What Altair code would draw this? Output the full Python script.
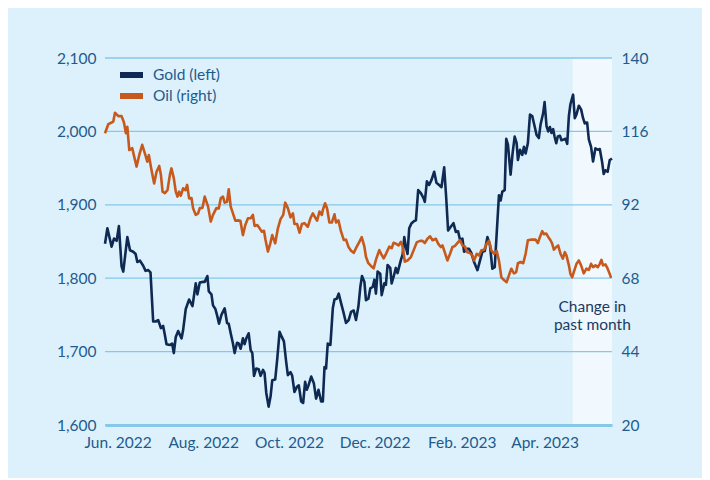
import altair as alt
import pandas as pd

START = pd.Timestamp("2022-05-23")

# Gold (left axis): days since START, price in USD/oz
gold_day = (
    [0.0, 1.7, 4.7, 6.4, 8.3, 9.9, 11.8, 13.0, 15.9, 17.8,
     20.1, 21.8, 23.0, 24.9, 27.2, 28.9, 30.8, 32.4, 34.3, 36.0,
     37.9, 39.8, 41.4, 42.6, 43.8, 46.2, 47.8, 49.0, 50.4, 52.1,
     54.5, 55.6, 57.5, 59.9, 62.3, 64.6, 65.8, 67.5, 69.8]
    + [71.0, 72.9, 73.9, 75.8, 76.9, 78.6, 80.0, 81.2, 82.9, 85.2,
       86.9, 88.1, 89.5, 91.1, 92.3, 94.0, 95.2, 96.6, 98.2, 99.4,
       100.6, 102.3, 103.7, 104.9, 106.1, 107.7, 109.4, 110.8, 112.5, 113.6,
       114.8, 116.5, 117.9, 119.1, 121.2, 122.6, 124.3, 125.9, 127.4, 129.0,
       130.2, 132.1, 133.3, 134.9, 136.6, 138.0, 139.7, 141.1, 142.5, 143.7,
       144.9, 146.8, 148.7, 150.3, 152.0, 153.9, 155.1, 156.3, 157.4, 158.6,
       160.5, 162.2, 163.4, 165.0, 166.4, 168.1, 170.0, 171.6, 173.5, 175.2,
       177.1, 178.7, 180.4, 181.8, 183.0, 184.7, 185.8, 187.5, 188.9, 190.6,
       191.8, 192.9, 194.1, 196.0, 197.0, 198.9, 200.0, 201.2, 203.1, 204.1,
       205.5, 207.1, 208.3, 210.7, 211.9]
    + [213.1, 214.3, 215.4, 216.6, 218.3, 220.2, 221.4, 223.0, 224.9, 226.8,
       227.7, 229.2, 230.8, 232.5, 234.4, 236.0, 237.9, 239.6, 241.5, 242.9,
       244.3, 246.2, 248.1, 249.8, 251.4, 252.8, 254.5, 255.7, 257.6, 259.2,
       260.9, 262.8, 265.2, 267.0, 268.7, 270.4, 272.3, 274.1, 275.8, 277.5,
       278.9, 280.5, 281.7, 282.9]
    + [284.6, 285.7, 286.9, 288.8, 290.2, 291.7, 293.1, 294.0, 295.5, 297.1,
       298.3, 299.5, 301.1, 302.6, 304.2, 305.9, 307.3, 308.9, 310.1, 312.0,
       313.0, 314.4, 315.6, 316.8, 317.9, 319.1, 320.1, 321.3, 322.4, 323.9,
       325.0, 326.7, 327.9, 329.1, 330.3, 331.4, 333.3, 334.5, 335.7, 337.4,
       339.0, 340.4, 341.6, 343.3, 344.5, 346.1, 347.5, 349.2, 350.9, 352.3,
       353.9, 355.1, 356.3, 357.9, 359.4, 361.0]
)
gold_val = (
    [1847, 1868, 1843, 1854, 1851, 1871, 1816, 1809, 1856, 1838,
     1836, 1833, 1822, 1824, 1817, 1810, 1811, 1808, 1741, 1741,
     1743, 1732, 1735, 1723, 1710, 1709, 1711, 1698, 1720, 1728,
     1718, 1729, 1758, 1771, 1762, 1793, 1778, 1794, 1795]
    + [1795, 1803, 1782, 1778, 1763, 1758, 1748, 1738, 1750, 1759,
       1739, 1738, 1725, 1711, 1698, 1712, 1711, 1704, 1718, 1710,
       1718, 1725, 1702, 1698, 1667, 1677, 1676, 1667, 1675, 1671,
       1644, 1625, 1639, 1661, 1662, 1689, 1727, 1720, 1714, 1686,
       1668, 1672, 1667, 1645, 1652, 1654, 1632, 1630, 1659, 1648,
       1654, 1666, 1657, 1636, 1648, 1632, 1632, 1679, 1677, 1711,
       1709, 1759, 1771, 1772, 1779, 1766, 1752, 1739, 1743, 1754,
       1756, 1743, 1761, 1788, 1803, 1795, 1770, 1772, 1786, 1788,
       1798, 1779, 1809, 1806, 1777, 1793, 1791, 1818, 1814, 1793,
       1802, 1814, 1807, 1825, 1832]
    + [1856, 1842, 1833, 1868, 1875, 1878, 1879, 1920, 1916, 1909,
       1904, 1932, 1927, 1934, 1945, 1930, 1927, 1924, 1951, 1911,
       1865, 1870, 1875, 1863, 1864, 1852, 1854, 1836, 1840, 1840,
       1834, 1822, 1811, 1824, 1836, 1837, 1856, 1845, 1813, 1815,
       1861, 1913, 1906, 1918]
    + [1920, 1990, 1982, 1941, 1970, 1993, 1984, 1961, 1975, 1968,
       1979, 1970, 1984, 2023, 2021, 2007, 1995, 1991, 2009, 2025,
       2040, 2007, 2000, 2006, 1998, 2003, 1993, 1984, 1993, 1994,
       1988, 1989, 1990, 1983, 2021, 2037, 2050, 2018, 2023, 2035,
       2030, 2018, 2011, 2012, 1989, 1979, 1959, 1977, 1975, 1976,
       1959, 1942, 1947, 1945, 1961, 1963]
)

# Oil (right axis): days since START, price in USD/bbl
oil_day = (
    [0.0, 2.4, 4.7, 5.9, 7.1, 9.5, 11.8, 13.5, 14.9, 15.9,
     17.3, 19.4, 20.8, 22.5, 24.4, 26.5, 28.4, 30.1, 31.2, 33.1,
     35.0, 36.7, 38.6, 39.8, 41.0, 42.6, 44.5, 46.2, 47.3, 49.0,
     50.4, 51.6, 52.8, 54.0, 55.6, 57.3, 58.5, 59.9, 61.6, 62.7,
     64.6, 66.3, 67.5, 69.4]
    + [71.0, 73.4, 75.3, 76.9, 79.3, 81.0, 82.4, 84.0, 85.2, 86.9,
       88.1, 89.5, 91.1, 92.8, 94.7, 96.4, 98.2, 99.9, 101.8, 103.7,
       105.3, 106.5, 108.4, 110.1, 111.7, 113.2, 114.3, 116.0, 117.7, 119.1,
       121.2, 123.1, 125.0, 126.9, 128.3, 130.2, 132.1, 133.8, 134.9, 136.8,
       138.5, 140.2]
    + [142.0, 144.4, 146.3, 148.0, 149.6, 151.0, 152.7, 154.4, 155.1, 156.7,
       158.1, 159.8, 161.5, 163.4, 164.5, 166.2, 168.1, 170.0, 171.6, 173.3,
       175.2, 177.1, 178.7, 181.1, 182.8, 184.7, 185.8, 187.5, 189.4, 191.3,
       192.9, 195.3, 197.0, 198.4, 200.0, 202.4, 204.1, 205.5, 207.1, 209.0,
       210.7, 211.9]
    + [213.5, 215.4, 217.8, 219.7, 222.1, 224.4, 226.1, 227.7, 229.6, 231.5,
       233.2, 235.6, 237.2, 239.1, 240.3, 241.9, 243.8, 245.7, 247.4, 249.0,
       250.9, 252.8, 254.5, 256.2, 258.0, 259.9, 261.6, 262.8, 264.7, 266.3,
       268.0, 269.9, 271.8, 273.4, 275.1, 277.0, 278.9, 280.5, 282.2]
    + [284.1, 286.0, 287.6, 289.3, 291.2, 292.8, 294.0, 295.9, 297.8, 299.5,
       301.1, 303.0, 304.9, 306.6, 308.2, 309.7, 311.3, 312.5, 314.2, 315.6,
       317.2, 318.4, 319.6, 321.3, 322.7, 324.3, 326.0, 327.4, 328.6, 330.3,
       331.4, 332.6, 333.8, 335.7, 337.4, 339.0, 340.9, 342.8, 344.5, 346.1,
       347.5, 349.2, 350.9, 352.3, 353.5, 354.6, 356.3, 357.9, 359.4, 360.3]
)
oil_val = (
    [115.4, 118.4, 118.9, 119.2, 122.1, 121.0, 121.0, 118.9, 115.4, 117.5,
     109.9, 110.5, 107.7, 104.5, 108.3, 111.6, 108.8, 106.1, 108.3, 103.4,
     99.0, 102.8, 104.7, 101.8, 96.3, 95.8, 96.8, 101.8, 103.9, 100.7,
     96.3, 94.7, 96.3, 95.0, 97.4, 96.8, 98.5, 94.1, 94.2, 90.9,
     88.7, 89.2, 90.9, 91.0]
    + [94.7, 91.4, 86.5, 88.7, 90.9, 90.8, 94.1, 94.7, 92.7, 93.0,
       97.1, 91.4, 89.2, 86.8, 86.9, 86.8, 82.1, 85.4, 87.6, 87.6,
       88.7, 85.1, 85.4, 84.3, 83.2, 83.5, 80.5, 76.7, 79.4, 82.1,
       79.4, 84.3, 87.3, 88.7, 92.7, 90.9, 87.9, 89.2, 85.7, 85.7,
       82.9, 85.7]
    + [86.0, 84.8, 87.6, 89.2, 87.9, 86.8, 89.8, 88.7, 90.3, 92.5,
       90.9, 86.2, 86.2, 88.9, 86.2, 86.9, 83.2, 80.5, 80.6, 78.3,
       77.0, 76.3, 77.8, 79.9, 81.4, 78.3, 75.0, 72.9, 72.0, 71.2,
       74.0, 77.2, 75.6, 74.5, 75.9, 78.3, 77.8, 79.6, 79.3, 78.7,
       79.9, 78.3]
    + [73.4, 73.8, 74.9, 77.1, 79.8, 80.2, 80.2, 79.5, 80.9, 81.7,
       80.4, 80.9, 79.3, 78.2, 78.7, 76.5, 73.8, 76.0, 78.2, 78.5,
       79.5, 80.4, 78.7, 78.4, 76.5, 76.2, 75.4, 73.8, 76.0, 75.4,
       77.1, 77.3, 79.3, 80.2, 77.1, 76.0, 76.9, 73.8, 68.3]
    + [67.4, 66.7, 68.9, 71.1, 69.6, 70.0, 72.9, 73.3, 72.9, 76.0,
       80.4, 80.6, 80.6, 80.6, 79.5, 81.5, 83.4, 82.4, 82.6, 81.5,
       80.4, 79.3, 77.3, 78.2, 78.7, 76.0, 74.4, 76.5, 75.4, 72.2,
       69.4, 68.3, 70.0, 72.7, 73.8, 72.2, 69.6, 71.1, 70.7, 72.7,
       71.6, 72.2, 71.6, 72.7, 74.0, 72.2, 72.5, 71.1, 69.4, 68.1]
)

assert len(gold_day) == len(gold_val), (len(gold_day), len(gold_val))
assert len(oil_day) == len(oil_val), (len(oil_day), len(oil_val))

series_names = ["Gold (left)", "Oil (right)"]
series_colors = ["#0f2a52", "#c8591c"]
gold_ticks = [1600, 1700, 1800, 1900, 2000, 2100]
oil_ticks = [20, 44, 68, 92, 116, 140]
month_ticks = [(2022, 6), (2022, 8), (2022, 10), (2022, 12), (2023, 2), (2023, 4)]
shade_start = "2023-04-21"
shade_end = "2023-05-19"
note_lines = ["Change in", "past month"]
note_values = [1761, 1736]

BG = "#dcf1fb"
SHADE = "#f1f9fe"
GRID = "#86c7ea"
TEXT = "#1e5b8e"
NOTE = "#1b3a63"
FONT = "Lato"
FS = 15.5

gold_df = pd.DataFrame({
    "date": START + pd.to_timedelta(gold_day, unit="D"),
    "value": gold_val,
    "series": series_names[0],
})
oil_df = pd.DataFrame({
    "date": START + pd.to_timedelta(oil_day, unit="D"),
    "value": oil_val,
    "series": series_names[1],
})
shade_df = pd.DataFrame({"start": [pd.Timestamp(shade_start)], "end": [pd.Timestamp(shade_end)]})
mid = pd.Timestamp(shade_start) + (pd.Timestamp(shade_end) - pd.Timestamp(shade_start)) / 2
note_df = pd.DataFrame({"date": [mid, mid], "value": note_values, "text": note_lines})
grid_df = pd.DataFrame({"value": gold_ticks})
legend_df = pd.DataFrame({"series": series_names})

W, H = 507, 367

x_scale = alt.Scale(domain=[alt.DateTime(year=2022, month=5, date=23),
                            alt.DateTime(year=2023, month=5, date=19)])
x_axis = alt.Axis(
    values=[alt.DateTime(year=y, month=m, date=1) for y, m in month_ticks],
    format="%b. %Y", title=None, grid=False, ticks=False,
    labelFont=FONT, labelFontSize=FS, labelColor=TEXT, labelPadding=10,
    labelFlush=False, labelOverlap=False,
    domainColor=GRID, domainWidth=3, zindex=1,
)
gold_scale = alt.Scale(domain=[1600, 2100], nice=False, zero=False)
oil_scale = alt.Scale(domain=[20, 140], nice=False, zero=False)
gold_axis = alt.Axis(values=gold_ticks, format=",.0f", title=None, grid=False,
                     domain=False, ticks=False, labelPadding=9,
                     labelFont=FONT, labelFontSize=FS, labelColor=TEXT)
oil_axis = alt.Axis(values=oil_ticks, format=".0f", orient="right", title=None,
                    grid=False, domain=False, ticks=False, labelPadding=9,
                    labelFont=FONT, labelFontSize=FS, labelColor=TEXT)

color = alt.Color("series:N",
                  scale=alt.Scale(domain=series_names, range=series_colors),
                  legend=None)

shade = alt.Chart(shade_df).mark_rect(color=SHADE).encode(
    x=alt.X("start:T", scale=x_scale, axis=x_axis),
    x2="end:T",
    y=alt.value(0),
    y2=alt.value(H),
)

grid = alt.Chart(grid_df).mark_rule(color=GRID, strokeWidth=1.3).encode(
    y=alt.Y("value:Q", scale=gold_scale, axis=gold_axis),
)

gold_line = alt.Chart(gold_df).mark_line(strokeWidth=2.6, strokeJoin="round").encode(
    x=alt.X("date:T", scale=x_scale, axis=x_axis),
    y=alt.Y("value:Q", scale=gold_scale, axis=gold_axis),
    color=color,
)

note = alt.Chart(note_df).mark_text(
    font=FONT, fontSize=FS, color=NOTE, align="center", baseline="middle"
).encode(
    x=alt.X("date:T", scale=x_scale, axis=x_axis),
    y=alt.Y("value:Q", scale=gold_scale, axis=gold_axis),
    text="text:N",
)

oil_line = alt.Chart(oil_df).mark_line(strokeWidth=2.6, strokeJoin="round").encode(
    x=alt.X("date:T", scale=x_scale, axis=x_axis),
    y=alt.Y("value:Q", scale=oil_scale, axis=oil_axis),
    color=color,
)

# legend drawn as a small keyed block in the top-left of the plot
legend_y = alt.Y("series:N",
                 scale=alt.Scale(type="point", domain=series_names, range=[17, 38], padding=0),
                 axis=None)
legend_swatch = alt.Chart(legend_df).mark_rule(strokeWidth=6).encode(
    x=alt.value(15), x2=alt.value(38), y=legend_y, color=color,
)
legend_text = alt.Chart(legend_df).mark_text(
    font=FONT, fontSize=FS, color=TEXT, align="left", baseline="middle"
).encode(x=alt.value(48), y=legend_y, text="series:N")
legend = alt.layer(legend_swatch, legend_text)

left = alt.layer(shade, grid, gold_line, note)
chart = alt.layer(left, oil_line, legend).resolve_scale(y="independent").properties(
    width=W, height=H,
    autosize=alt.AutoSizeParams(type="none"),
    padding={"left": 97, "top": 50, "right": 90, "bottom": 53},
    background=BG,
).configure_view(stroke=None)

chart.save("out.html", embed_options={"renderer": "svg", "actions": False})
